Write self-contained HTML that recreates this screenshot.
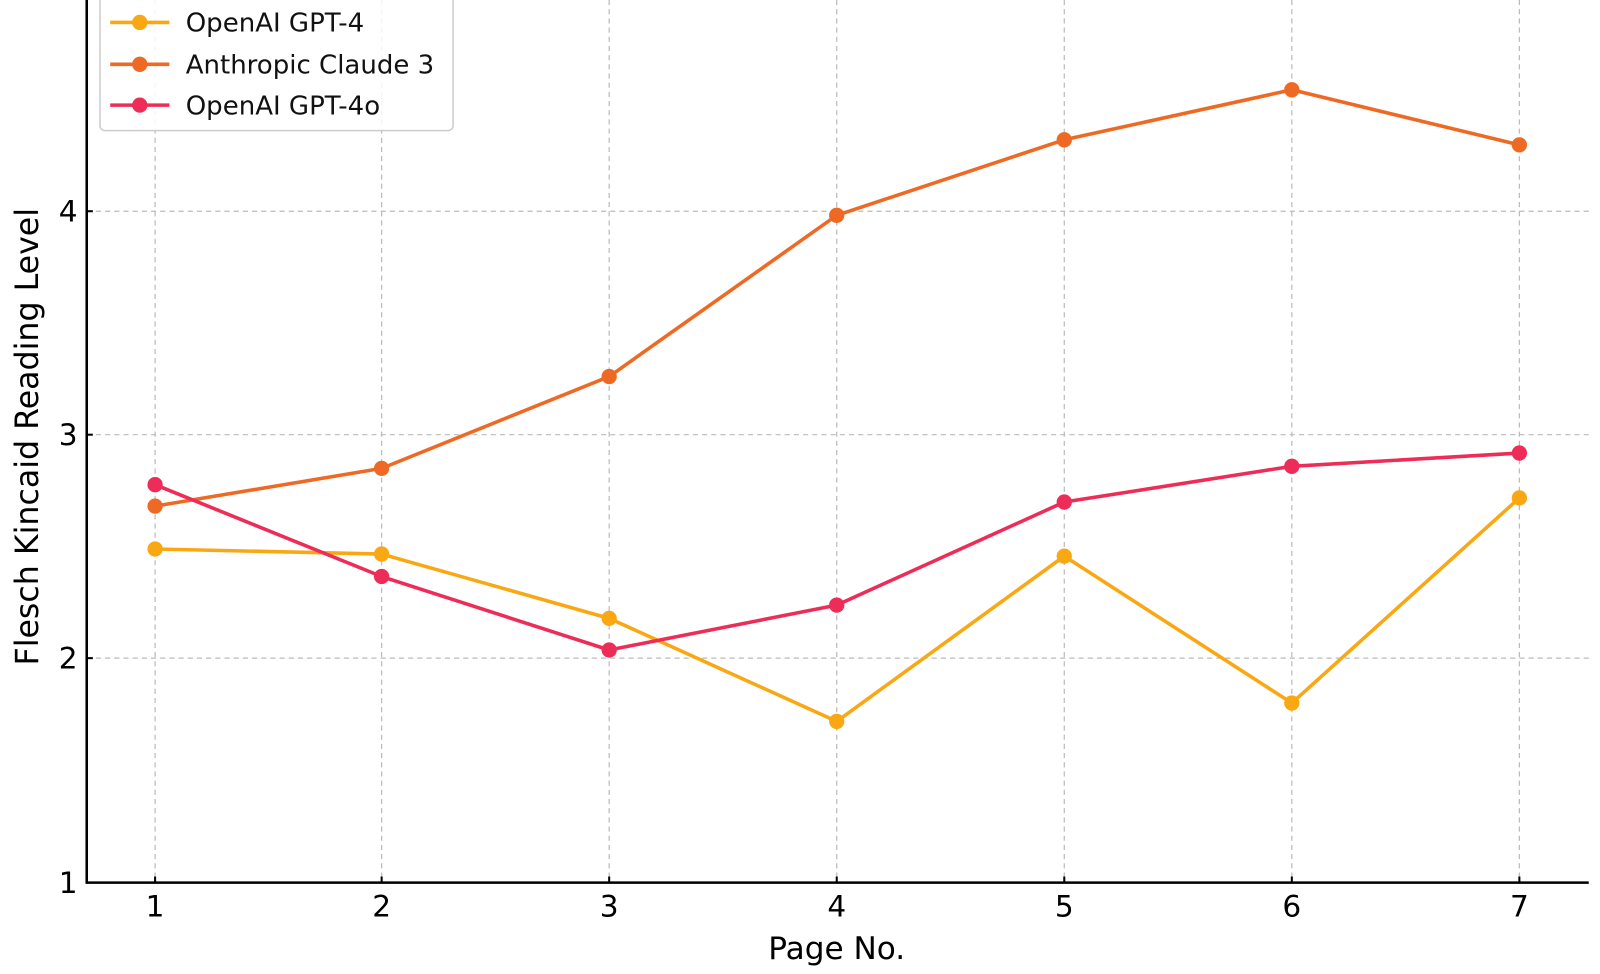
<!DOCTYPE html>
<html><head><style>body{margin:0;background:#fff}svg{display:block}</style></head><body>
<svg width="1600" height="974" xmlns="http://www.w3.org/2000/svg" font-family="DejaVu Sans, Liberation Sans, sans-serif">
<g transform="scale(1.0204)">
<g stroke="#bbb" stroke-width="1.2" stroke-dasharray="5,4">
<line x1="152" y1="0" x2="152" y2="865"/><line x1="374" y1="0" x2="374" y2="865"/><line x1="597" y1="0" x2="597" y2="865"/><line x1="820" y1="0" x2="820" y2="865"/><line x1="1043" y1="0" x2="1043" y2="865"/><line x1="1266" y1="0" x2="1266" y2="865"/><line x1="1489" y1="0" x2="1489" y2="865"/>
<line x1="85" y1="645" x2="1557" y2="645"/><line x1="85" y1="426" x2="1557" y2="426"/><line x1="85" y1="207" x2="1557" y2="207"/>
</g>
<g fill="none" stroke-width="3.5" stroke-linejoin="round">
<polyline stroke="#F9A813" points="152,538 374,543 597,606 820,707 1043,545 1266,689 1489,488"/>
<polyline stroke="#EE6A24" points="152,496 374,459 597,369 820,211 1043,137 1266,88 1489,142"/>
<polyline stroke="#EE2C58" points="152,475 374,565 597,637 820,593 1043,492 1266,457 1489,444"/>
</g>
<g fill="#F9A813"><circle cx="152" cy="538" r="7.5"/><circle cx="374" cy="543" r="7.5"/><circle cx="597" cy="606" r="7.5"/><circle cx="820" cy="707" r="7.5"/><circle cx="1043" cy="545" r="7.5"/><circle cx="1266" cy="689" r="7.5"/><circle cx="1489" cy="488" r="7.5"/></g>
<g fill="#EE6A24"><circle cx="152" cy="496" r="7.5"/><circle cx="374" cy="459" r="7.5"/><circle cx="597" cy="369" r="7.5"/><circle cx="820" cy="211" r="7.5"/><circle cx="1043" cy="137" r="7.5"/><circle cx="1266" cy="88" r="7.5"/><circle cx="1489" cy="142" r="7.5"/></g>
<g fill="#EE2C58"><circle cx="152" cy="475" r="7.5"/><circle cx="374" cy="565" r="7.5"/><circle cx="597" cy="637" r="7.5"/><circle cx="820" cy="593" r="7.5"/><circle cx="1043" cy="492" r="7.5"/><circle cx="1266" cy="457" r="7.5"/><circle cx="1489" cy="444" r="7.5"/></g>
<g stroke="#000" stroke-width="2.5">
<line x1="85" y1="0" x2="85" y2="866"/><line x1="84" y1="865" x2="1557" y2="865"/>
</g>
<g stroke="#000" stroke-width="2">
<line x1="152" y1="865" x2="152" y2="859"/><line x1="374" y1="865" x2="374" y2="859"/><line x1="597" y1="865" x2="597" y2="859"/><line x1="820" y1="865" x2="820" y2="859"/><line x1="1043" y1="865" x2="1043" y2="859"/><line x1="1266" y1="865" x2="1266" y2="859"/><line x1="1489" y1="865" x2="1489" y2="859"/>
<line x1="85" y1="645" x2="91" y2="645"/><line x1="85" y1="426" x2="91" y2="426"/><line x1="85" y1="207" x2="91" y2="207"/>
</g>
<g font-size="29" fill="#000" text-anchor="middle">
<text x="152" y="898">1</text><text x="374" y="898">2</text><text x="597" y="898">3</text><text x="820" y="898">4</text><text x="1043" y="898">5</text><text x="1266" y="898">6</text><text x="1489" y="898">7</text>
</g>
<g font-size="29" fill="#000" text-anchor="end">
<text x="76" y="875">1</text><text x="76" y="655">2</text><text x="76" y="436">3</text><text x="76" y="217">4</text><text x="76" y="-2">5</text>
</g>
<text x="820" y="940" font-size="30.5" text-anchor="middle">Page No.</text>
<text transform="translate(37,428) rotate(-90)" font-size="31" text-anchor="middle">Flesch Kincaid Reading Level</text>
<rect x="98" y="-4" width="346" height="132" rx="5" fill="#fff" fill-opacity="0.85" stroke="#ccc" stroke-width="1.5"/>
<g stroke-width="3.5"><line x1="108" y1="22" x2="166" y2="22" stroke="#F9A813"/><line x1="108" y1="63" x2="166" y2="63" stroke="#EE6A24"/><line x1="108" y1="103" x2="166" y2="103" stroke="#EE2C58"/></g>
<circle cx="137" cy="22" r="7.5" fill="#F9A813"/><circle cx="137" cy="63" r="7.5" fill="#EE6A24"/><circle cx="137" cy="103" r="7.5" fill="#EE2C58"/>
<g font-size="25.5" fill="#111"><text x="182" y="31">OpenAI GPT-4</text><text x="182" y="72">Anthropic Claude 3</text><text x="182" y="112">OpenAI GPT-4o</text></g>
</g>
</svg>
</body></html>
